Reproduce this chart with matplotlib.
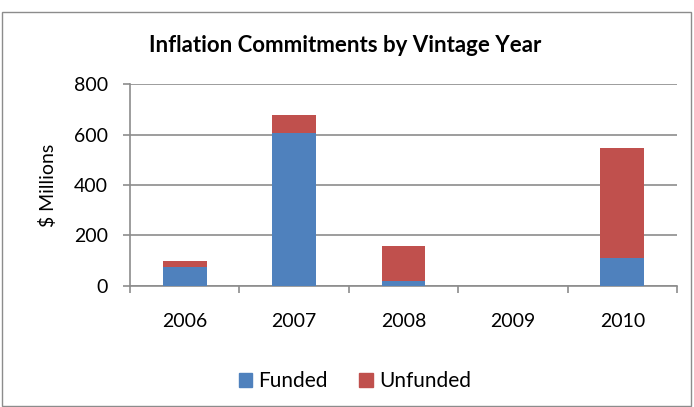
import matplotlib.pyplot as plt
from matplotlib.patches import Rectangle, Patch

years = ['2006', '2007', '2008', '2009', '2010']
funded = [76, 606, 20, 0, 110]
unfunded = [24, 74, 139, 0, 439]

blue = '#4F81BD'
red = '#C0504D'
grey = '#8C8C8C'

plt.rcParams['font.family'] = ['Lato', 'DejaVu Sans']

fig = plt.figure(figsize=(6.94, 4.07), dpi=100)
fig.patches.append(Rectangle((2 / 694, 1 / 407), 689 / 694, 394 / 407,
                             transform=fig.transFigure, fill=False,
                             edgecolor=grey, linewidth=1))

ax = fig.add_axes([130 / 694, 1 - 285.7 / 407, 547 / 694, 201.3 / 407])
x = range(len(years))
ax.bar(x, funded, width=0.4, color=blue, label='Funded', zorder=3)
ax.bar(x, unfunded, width=0.4, bottom=funded, color=red, label='Unfunded',
       zorder=3)

ax.set_xlim(-0.5, len(years) - 0.5)
ax.set_ylim(0, 800)
ax.set_yticks([0, 200, 400, 600, 800])
ax.set_xticks([i - 0.5 for i in range(len(years) + 1)], minor=False)
ax.set_xticklabels([])
ax.set_xticks(list(x), minor=True)
ax.set_xticklabels(years, minor=True)
ax.tick_params(axis='x', which='minor', length=0, pad=20, labelsize=14)
ax.tick_params(axis='x', which='major', length=5, color=grey, width=1.2)
ax.tick_params(axis='y', length=5, color=grey, width=1.2, labelsize=14,
               pad=11)
ax.yaxis.grid(True, color=grey, linewidth=1.2, zorder=0)
for side in ['top', 'right']:
    ax.spines[side].set_visible(False)
for side in ['left', 'bottom']:
    ax.spines[side].set_color(grey)
    ax.spines[side].set_linewidth(1.2)

ax.set_ylabel('$ Millions', fontsize=14, labelpad=12)
fig.text(345 / 694, 1 - 45 / 407, 'Inflation Commitments by Vintage Year',
         ha='center', va='center', fontsize=16, fontweight='bold')

handles = [Patch(color=blue, label='Funded'), Patch(color=red, label='Unfunded')]
fig.legend(handles=handles, loc='center', bbox_to_anchor=(355 / 694, 1 - 381 / 407),
           ncol=2, frameon=False, fontsize=15, handlelength=0.65,
           handleheight=0.65, handletextpad=0.3, columnspacing=1.5)

fig.savefig('out.png', dpi=100)
